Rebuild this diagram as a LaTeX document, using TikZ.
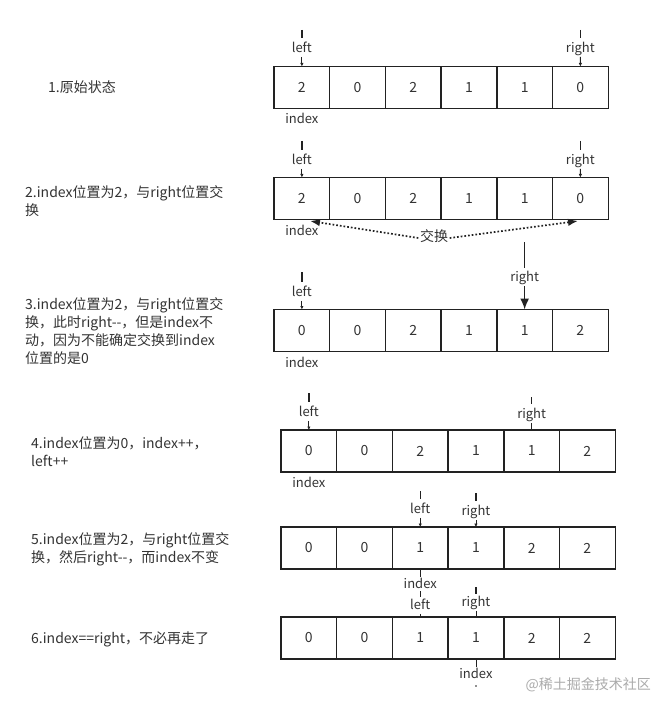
\documentclass[tikz,border=0pt]{standalone}
\usepackage{fontspec}
\setmainfont{Noto Sans CJK SC}
\usetikzlibrary{arrows.meta}
\definecolor{txt}{HTML}{333333}
\definecolor{lnc}{HTML}{222222}
\definecolor{wm}{HTML}{ABABAB}
\begin{document}
\begin{tikzpicture}[x=1pt,y=-1pt,
  cell/.style={draw=lnc,line width=1.4pt,minimum width=55.7pt,minimum height=42pt,inner sep=0pt,outer sep=0pt,text=txt,font=\fontsize{14}{16}\selectfont},
  lbl/.style={text=txt,font=\fontsize{13}{15}\selectfont,inner sep=1.5pt,text height=9.5pt,text depth=3pt},
  desc/.style={text=txt,font=\fontsize{14}{18}\selectfont,anchor=west,align=left,inner sep=0pt},
  dashline/.style={draw=lnc,line width=1.4pt,shorten >=3pt},
  ptr/.style={draw=lnc,line width=0.8pt,-{Latex[length=3.5pt,width=3.5pt]}},
  tick/.style={draw=lnc,line width=0.8pt},
  bigptr/.style={draw=lnc,line width=1.6pt,-{Latex[length=11pt,width=9pt]}},
  swapline/.style={draw=lnc,line width=1.7pt,dotted,-{Latex[length=10pt,width=7.5pt]}},
  dotnode/.style={circle,fill=lnc,inner sep=0pt,minimum size=1.8pt},
]
\useasboundingbox[fill=white] (0,0) rectangle (656,703);

% ---------- arrays ----------
\foreach \v [count=\i] in {2,0,2,1,1,0}
  \node[cell] (r1c\i) at ({274+27.85+(\i-1)*55.7},87.5) {\v};
\foreach \v [count=\i] in {2,0,2,1,1,0}
  \node[cell] (r2c\i) at ({274+27.85+(\i-1)*55.7},198.5) {\v};
\foreach \v [count=\i] in {0,0,2,1,1,2}
  \node[cell] (r3c\i) at ({274+27.85+(\i-1)*55.7},330.5) {\v};
\foreach \v [count=\i] in {0,0,2,1,1,2}
  \node[cell] (r4c\i) at ({281+27.85+(\i-1)*55.7},451) {\v};
\foreach \v [count=\i] in {0,0,1,1,2,2}
  \node[cell] (r5c\i) at ({281+27.85+(\i-1)*55.7},548) {\v};
\foreach \v [count=\i] in {0,0,1,1,2,2}
  \node[cell] (r6c\i) at ({281+27.85+(\i-1)*55.7},638) {\v};

% ---------- descriptions ----------
\node[desc] (d1) at (48,87.5) {1.原始状态};
\node[desc] (d2) at (25,201) {2.index位置为2，与right位置交\\换};
\node[desc] (d3) at (25,331.5) {3.index位置为2，与right位置交\\换，此时right-{}-，但是index不\\动，因为不能确定交换到index\\位置的是0};
\node[desc] (d4) at (31,452) {4.index位置为0，index++，\\left++};
\node[desc] (d5) at (31,549) {5.index位置为2，与right位置交\\换，然后right-{}-，而index不变};
\node[desc] (d6) at (31,639) {6.index==right，不必再走了};

% ---------- row 1 ----------
\node[lbl] (l1) at (301.85,49) {left};
\coordinate (l1t) at (301.85,30);
\draw[dashline] (l1t) -- (l1.north);
\draw[ptr] (l1.south) -- (r1c1.north);
\node[lbl] (rt1) at (580.35,49) {right};
\coordinate (rt1t) at (580.35,30);
\draw[dashline] (rt1t) -- (rt1.north);
\draw[ptr] (rt1.south) -- (r1c6.north);
\node[lbl] (i1) at (301.85,120) {index};

% ---------- row 2 ----------
\node[lbl] (l2) at (301.85,161) {left};
\coordinate (l2t) at (301.85,141);
\draw[dashline] (l2t) -- (l2.north);
\draw[ptr] (l2.south) -- (r2c1.north);
\node[lbl] (rt2) at (580.35,161) {right};
\coordinate (rt2t) at (580.35,141);
\draw[dashline] (rt2t) -- (rt2.north);
\draw[ptr] (rt2.south) -- (r2c6.north);
\node[lbl] (i2) at (301.85,232) {index};
\node[lbl,font=\fontsize{14}{16}\selectfont] (swap) at (434,238) {交换};
\coordinate (sw1) at (310,221);
\coordinate (sw2) at (578,221);
\draw[swapline] (swap.west) -- (sw1);
\draw[swapline] (swap.east) -- (sw2);

% ---------- row 3 ----------
\node[lbl] (l3) at (301.85,293) {left};
\coordinate (l3t) at (301.85,272);
\draw[dashline] (l3t) -- (l3.north);
\draw[ptr] (l3.south) -- (r3c1.north);
\node[lbl] (rt3) at (524.65,278) {right};
\coordinate (rt3t) at (524.65,242);
\draw[draw=lnc,line width=1.6pt,shorten >=2pt] (rt3t) -- (rt3.north);
\draw[bigptr] (rt3.south) -- (r3c5.north);
\node[lbl] (i3) at (301.85,364) {index};

% ---------- row 4 ----------
\node[lbl] (l4) at (308.85,413) {left};
\coordinate (l4t) at (308.85,393);
\draw[dashline] (l4t) -- (l4.north);
\draw[ptr] (l4.south) -- (r4c1.north);
\node[lbl] (rt4) at (531.65,415) {right};
\coordinate (rt4t) at (531.65,397);
\draw[dashline] (rt4t) -- (rt4.north);
\draw[tick] (rt4.south) -- (r4c5.north);
\node[lbl] (i4) at (308.85,484) {index};

% ---------- row 5 ----------
\node[lbl] (l5) at (420.25,510) {left};
\coordinate (l5t) at (420.25,491);
\draw[dashline] (l5t) -- (l5.north);
\draw[ptr] (l5.south) -- (r5c3.north);
\node[lbl] (rt5) at (475.95,512) {right};
\coordinate (rt5t) at (475.95,493);
\draw[dashline] (rt5t) -- (rt5.north);
\draw[ptr] (rt5.south) -- (r5c4.north);
\node[lbl] (i5) at (420.25,585) {index};
\draw[tick] (r5c3.south) -- (i5.north);

% ---------- row 6 ----------
\node[lbl] (l6) at (420.25,606) {left};
\coordinate (l6t) at (420.25,591);
\draw[dashline,shorten >=1pt] (l6t) -- (l6.north);
\draw[tick] (l6.south) -- (r6c3.north);
\node[lbl] (rt6) at (475.95,603) {right};
\coordinate (rt6t) at (475.95,587);
\draw[dashline,shorten >=1.5pt] (rt6t) -- (rt6.north);
\draw[tick] (rt6.south) -- (r6c4.north);
\node[lbl] (i6) at (475.95,675) {index};
\draw[tick] (r6c4.south) -- (i6.north);
\node[dotnode] (i6d) at (475.95,686) {};

% ---------- watermark ----------
\node[text=wm,font=\fontsize{14}{16}\selectfont,anchor=east,inner sep=0pt] (wmk) at (651,685) {@稀土掘金技术社区};
\end{tikzpicture}
\end{document}
